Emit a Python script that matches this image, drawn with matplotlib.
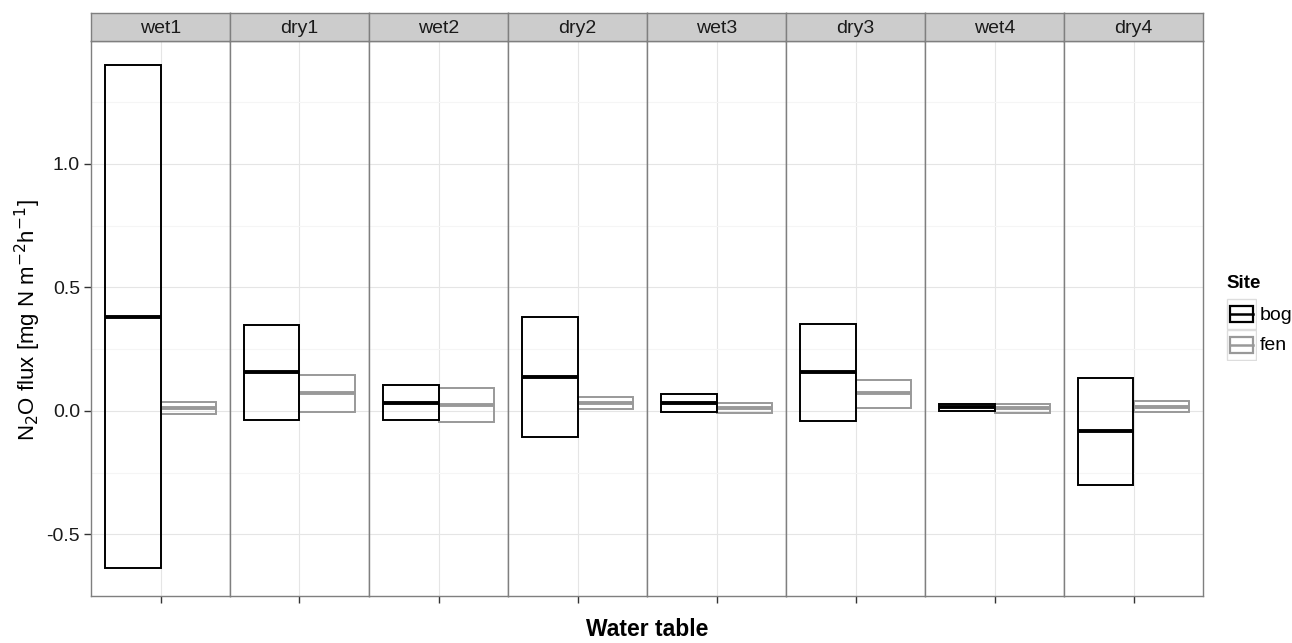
import matplotlib.pyplot as plt
from matplotlib.patches import Rectangle

plt.rcParams['font.family'] = ['Liberation Sans', 'DejaVu Sans']

# water table periods (facets)
periods = ['wet1', 'dry1', 'wet2', 'dry2', 'wet3', 'dry3', 'wet4', 'dry4']

# N2O flux crossbars: low / median / high per period
bog_low = [-0.637, -0.038, -0.039, -0.108, -0.006, -0.043, -0.001, -0.302]
bog_mid = [0.380, 0.158, 0.032, 0.138, 0.032, 0.155, 0.016, -0.083]
bog_high = [1.399, 0.347, 0.103, 0.380, 0.067, 0.351, 0.029, 0.132]

fen_low = [-0.014, -0.007, -0.046, 0.009, -0.011, 0.013, -0.008, -0.006]
fen_mid = [0.012, 0.070, 0.025, 0.032, 0.012, 0.070, 0.012, 0.016]
fen_high = [0.036, 0.146, 0.093, 0.055, 0.033, 0.123, 0.027, 0.039]

sites = ['bog', 'fen']
site_colors = {'bog': 'black', 'fen': '#999999'}

W, H = 1292, 643
fig = plt.figure(figsize=(W / 100, H / 100), dpi=100)

left_px, right_px = 91, 1203
top_px, bottom_px = 41, 596
strip_h = 28
n = len(periods)
pw = (right_px - left_px) / n

border = '#7f7f7f'
ylim = (-0.741, 1.497)
bw = 0.48

for i, p in enumerate(periods):
    x0 = (left_px + i * pw) / W
    ax = fig.add_axes([x0, 1 - bottom_px / H, pw / W, (bottom_px - top_px) / H])
    ax.set_xlim(0.4, 1.6)
    ax.set_ylim(*ylim)
    ax.set_yticks([-0.5, 0.0, 0.5, 1.0])
    ax.set_yticks([-0.75, -0.25, 0.25, 0.75, 1.25], minor=True)
    ax.set_xticks([1])
    ax.set_xticklabels([''])
    ax.grid(True, which='major', color='#e5e5e5', lw=0.8)
    ax.grid(True, which='minor', axis='y', color='#f5f5f5', lw=0.8)
    ax.set_axisbelow(True)
    for s in ax.spines.values():
        s.set_color(border)
        s.set_linewidth(1.0)
    ax.tick_params(axis='x', length=5, color='#333333', width=1)
    if i == 0:
        ax.set_yticklabels(['-0.5', '0.0', '0.5', '1.0'])
        ax.tick_params(axis='y', which='major', length=5, color='#333333',
                       width=1, labelsize=14, labelcolor='#1a1a1a', pad=3)
        ax.tick_params(axis='y', which='minor', length=0)
    else:
        ax.tick_params(axis='y', which='both', length=0, labelleft=False)

    # fen first, bog on top
    xf = 1 + bw / 2
    ax.bar(xf, fen_high[i] - fen_low[i], bottom=fen_low[i], width=bw,
           fill=False, edgecolor=site_colors['fen'], lw=1.4, zorder=3)
    ax.hlines(fen_mid[i], xf - bw / 2, xf + bw / 2, color=site_colors['fen'],
              lw=2.8, zorder=3)
    xb = 1 - bw / 2
    ax.bar(xb, bog_high[i] - bog_low[i], bottom=bog_low[i], width=bw,
           fill=False, edgecolor=site_colors['bog'], lw=1.4, zorder=4)
    ax.hlines(bog_mid[i], xb - bw / 2, xb + bw / 2, color=site_colors['bog'],
              lw=2.8, zorder=4)

    # strip
    sax = fig.add_axes([x0, 1 - top_px / H, pw / W, strip_h / H])
    sax.set_facecolor('#cccccc')
    sax.set_xticks([])
    sax.set_yticks([])
    for s in sax.spines.values():
        s.set_color(border)
        s.set_linewidth(1.0)
    sax.text(0.5, 0.45, p, ha='center', va='center', fontsize=14,
             color='#1a1a1a', transform=sax.transAxes)

fig.text(28 / W, 1 - 320 / H, r'N$_2$O flux [mg N m$^{-2}$h$^{-1}$]',
         rotation=90, ha='center', va='center', fontsize=16)
fig.text(647 / W, 1 - 630 / H, 'Water table',
         ha='center', va='center', fontsize=16.5, fontweight='bold')

# legend
fig.text(1226 / W, 1 - 283 / H, 'Site', ha='left', va='center',
         fontsize=13.5, fontweight='bold')
lax = fig.add_axes([1226 / W, 1 - 361 / H, 31 / W, 63 / H])
lax.set_xlim(0, 1)
lax.set_ylim(0, 2)
lax.axis('off')
for k, s in enumerate(sites):
    yb = 1 - k
    lax.add_patch(Rectangle((0.02, yb + 0.02), 0.96, 0.96, fill=False,
                            edgecolor='#dddddd', lw=1))
    lax.add_patch(Rectangle((0.12, yb + 0.24), 0.76, 0.52, fill=False,
                            edgecolor=site_colors[s], lw=1.6))
    lax.plot([0.12, 0.88], [yb + 0.5, yb + 0.5], color=site_colors[s], lw=1.8)
    fig.text(1260 / W, 1 - (315 + 30 * k) / H, s, ha='left', va='center',
             fontsize=14)

fig.savefig('out.png', dpi=100)
